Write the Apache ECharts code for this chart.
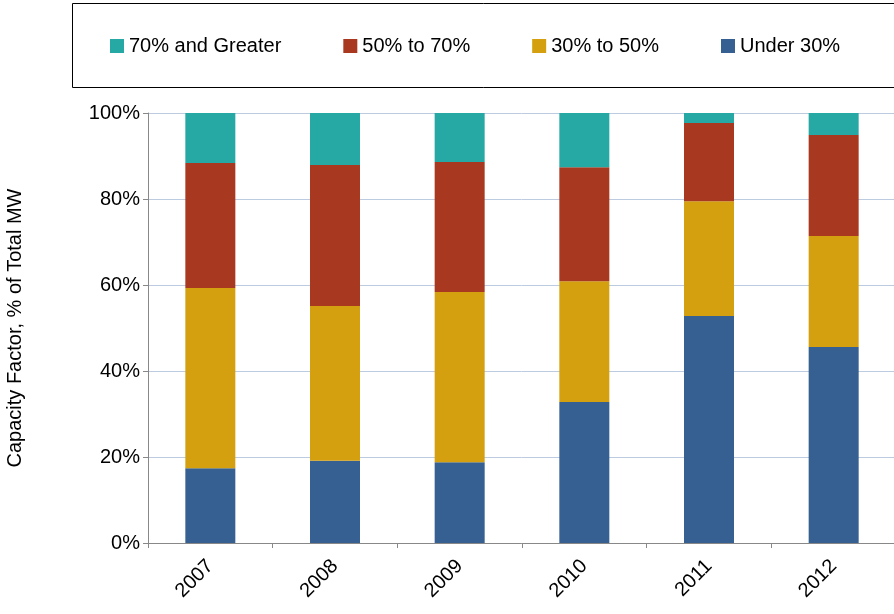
<!DOCTYPE html>
<html><head><meta charset="utf-8">
<script src="https://cdn.jsdelivr.net/npm/echarts@6/dist/echarts.min.js"></script>
<style>html,body{margin:0;padding:0;background:#fff}#main{width:894px;height:614px}</style>
</head><body><div id="main"></div>
<script>
var years = ['2007', '2008', '2009', '2010', '2011', '2012'];
var under30 = [17.4, 19.1, 18.8, 32.8, 52.8, 45.6];
var from30to50 = [41.9, 36.0, 39.6, 28.1, 26.7, 25.8];
var from50to70 = [29.1, 32.8, 30.2, 26.5, 18.2, 23.5];
var over70 = [11.6, 12.1, 11.4, 12.6, 2.3, 5.1];

var myChart = echarts.init(document.getElementById('main'));
var font = 'Arial, "Liberation Sans", sans-serif';
function bar(name, data, color) {
    return { name: name, type: 'bar', stack: 'all', data: data, barWidth: 50, itemStyle: { color: color } };
}
var option = {
    animation: false,
    textStyle: { fontFamily: font },
    graphic: [{ type: 'rect', shape: { x: 72.5, y: 3.5, width: 830, height: 84 }, style: { fill: 'none', stroke: '#000', lineWidth: 1 } }],
    legend: {
        top: 31, left: 105, itemWidth: 14, itemHeight: 14, itemGap: 62,
        icon: 'rect',
        textStyle: { fontSize: 20, color: '#000', fontFamily: font },
        data: ['70% and Greater', '50% to 70%', '30% to 50%', 'Under 30%']
    },
    grid: { left: 148, right: -2, top: 113, bottom: 71, outerBoundsMode: 'none' },
    xAxis: {
        type: 'category', data: years,
        axisLine: { lineStyle: { color: '#888' } },
        axisTick: { show: true, lineStyle: { color: '#888' } },
        axisLabel: { rotate: 45, fontSize: 20, color: '#000', margin: 20, fontFamily: font }
    },
    yAxis: {
        type: 'value', min: 0, max: 100, interval: 20,
        name: 'Capacity Factor, % of Total MW', nameLocation: 'middle', nameGap: 123, nameRotate: 90,
        nameTextStyle: { fontSize: 20, color: '#000', fontFamily: font },
        axisLine: { show: true, lineStyle: { color: '#888' } },
        axisTick: { show: true, lineStyle: { color: '#888' } },
        axisLabel: { formatter: '{value}%', fontSize: 20, color: '#000', fontFamily: font },
        splitLine: { lineStyle: { color: '#bccbe0' } }
    },
    series: [
        bar('Under 30%', under30, '#366092'),
        bar('30% to 50%', from30to50, '#d4a00f'),
        bar('50% to 70%', from50to70, '#a93820'),
        bar('70% and Greater', over70, '#26a9a4')
    ]
};
option && myChart.setOption(option);
</script></body></html>
